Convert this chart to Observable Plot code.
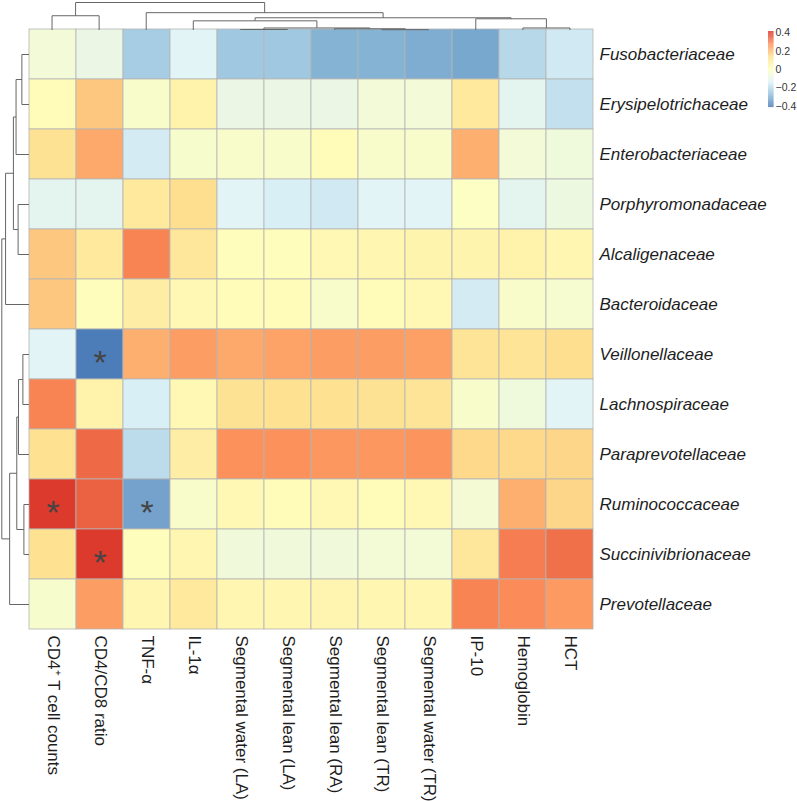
<!DOCTYPE html>
<html><head><meta charset="utf-8">
<script src="https://cdn.jsdelivr.net/npm/d3@7"></script>
<script src="https://cdn.jsdelivr.net/npm/@observablehq/plot@0.6"></script>
<style>
html,body{margin:0;padding:0;background:#fff;}
#chart{position:relative;width:797px;height:802px;overflow:hidden;font-family:"Liberation Sans",Arial,sans-serif;}
#chart svg{position:absolute;left:0;top:0;}
</style></head><body><div id="chart"></div>
<script>
// ---------- data ----------
const columns = ["CD4⁺ T cell counts","CD4/CD8 ratio","TNF-α","IL-1α","Segmental water (LA)","Segmental lean (LA)","Segmental lean (RA)","Segmental lean (TR)","Segmental water (TR)","IP-10","Hemoglobin","HCT"];
const rows = ["Fusobacteriaceae","Erysipelotrichaceae","Enterobacteriaceae","Porphyromonadaceae","Alcaligenaceae","Bacteroidaceae","Veillonellaceae","Lachnospiraceae","Paraprevotellaceae","Ruminococcaceae","Succinivibrionaceae","Prevotellaceae"];

const fusobacteriaceae    = [-0.06,-0.09,-0.24,-0.13,-0.25,-0.25,-0.30,-0.30,-0.31,-0.32,-0.21,-0.165];
const erysipelotrichaceae = [0.02,0.18,-0.03,0.06,-0.09,-0.09,-0.09,-0.06,-0.06,0.10,-0.12,-0.19];
const enterobacteriaceae  = [0.13,0.23,-0.16,-0.035,-0.03,-0.03,0.02,-0.03,-0.03,0.22,-0.06,-0.07];
const porphyromonadaceae  = [-0.12,-0.12,0.10,0.14,-0.13,-0.15,-0.165,-0.13,-0.13,-0.01,-0.12,-0.08];
const alcaligenaceae      = [0.18,0.10,0.29,0.11,0.01,0.01,0.03,0.04,0.05,0.05,0.06,0.04];
const bacteroidaceae      = [0.18,0.01,0.08,0.03,0.02,0.02,-0.03,0.02,0.03,-0.16,-0.03,-0.04];
const veillonellaceae     = [-0.13,-0.40,0.22,0.25,0.23,0.24,0.25,0.25,0.245,0.12,0.12,0.14];
const lachnospiraceae     = [0.29,0.06,-0.15,0.03,0.13,0.135,0.135,0.13,0.12,-0.03,-0.07,-0.13];
const paraprevotellaceae  = [0.135,0.33,-0.20,0.08,0.27,0.27,0.26,0.26,0.265,0.15,0.15,0.155];
const ruminococcaceae     = [0.40,0.34,-0.33,-0.03,0.03,0.02,0.03,0.02,0.03,-0.05,0.22,0.155];
const succinivibrionaceae = [0.135,0.40,0.01,0.04,-0.065,-0.065,-0.065,-0.055,-0.055,0.11,0.30,0.32];
const prevotellaceae      = [-0.035,0.25,0.04,0.10,0.04,0.04,0.045,0.04,0.04,0.29,0.28,0.255];
const values = [fusobacteriaceae,erysipelotrichaceae,enterobacteriaceae,porphyromonadaceae,alcaligenaceae,bacteroidaceae,veillonellaceae,lachnospiraceae,paraprevotellaceae,ruminococcaceae,succinivibrionaceae,prevotellaceae];

// significant cells (*)
const starRows = ["Veillonellaceae","Ruminococcaceae","Ruminococcaceae","Succinivibrionaceae"];
const starCols = ["CD4/CD8 ratio","CD4⁺ T cell counts","TNF-α","CD4/CD8 ratio"];

// dendrograms: [height, left, right]
const colTree = [27, [14, "CD4⁺ T cell counts", "CD4/CD8 ratio"],
  [17, "TNF-α",
    [12, [9, "IL-1α", [2, [0.5, "Segmental water (LA)", "Segmental lean (LA)"], [1.2, "Segmental lean (RA)", [0.3, "Segmental lean (TR)", "Segmental water (TR)"]]]],
         [11, "IP-10", [2, "Hemoglobin", "HCT"]]]]];
const rowTree = [26.7,
  [19, "Fusobacteriaceae", [12, [5, "Erysipelotrichaceae", "Enterobacteriaceae"], [10.3, "Porphyromonadaceae", [6, "Alcaligenaceae", "Bacteroidaceae"]]]],
  [23, "Veillonellaceae", [15.3, [10.7, "Lachnospiraceae", "Paraprevotellaceae"], [12.7, "Ruminococcaceae", [7, "Succinivibrionaceae", "Prevotellaceae"]]]]];

const legendTicks = [-0.4, -0.2, 0, 0.2, 0.4];
const paletteColors = ["#4575B4","#91BFDB","#E0F3F8","#FFFFBF","#FEE090","#FC8D59","#D73027"];
const paletteStops = [-0.415,-0.2767,-0.1383,0,0.1383,0.2767,0.415];

// ---------- build ----------
const cells = [];
rows.forEach((r, i) => columns.forEach((c, j) => cells.push({row: r, col: c, value: values[i][j]})));
const stars = starRows.map((r, i) => ({row: r, col: starCols[i]}));

function layout(tree, leaves, segs) {
  if (typeof tree === "string") return {p: leaves.indexOf(tree) + 0.5, h: 0};
  const [h, a, b] = tree;
  const A = layout(a, leaves, segs), B = layout(b, leaves, segs);
  segs.push({p1: A.p, h1: A.h, p2: A.p, h2: h});
  segs.push({p1: B.p, h1: B.h, p2: B.p, h2: h});
  segs.push({p1: A.p, h1: h, p2: B.p, h2: h});
  return {p: (A.p + B.p) / 2, h};
}
const colSegs = []; layout(colTree, columns, colSegs);
const rowSegs = []; layout(rowTree, rows, rowSegs);

const W = 797, H = 802;
const M = {marginLeft: 28, marginRight: 204, marginTop: 29, marginBottom: 173};
const color = {type: "linear", domain: paletteStops, range: paletteColors, clamp: true};
const font = "Liberation Sans, Arial, Helvetica, sans-serif";
const transparent = {background: "transparent", fontFamily: font, overflow: "visible"};

const heat = Plot.plot({
  width: W, height: H, ...M, style: transparent,
  x: {domain: columns, padding: 0, axis: null},
  y: {domain: rows, padding: 0, axis: null},
  color,
  marks: [
    Plot.cell(cells, {x: "col", y: "row", fill: "value", stroke: "#b4b4b4", strokeWidth: 0.8, inset: 0}),
    Plot.text(stars, {x: "col", y: "row", text: () => "*", fontSize: 34, fill: "#444", dy: 9}),
    Plot.axisY({anchor: "right", tickSize: 0, tickPadding: 6, fontSize: 17, fontStyle: "italic", color: "#1e1e1e", label: null}),
    Plot.axisX({anchor: "bottom", tickSize: 0, tickPadding: 6, tickRotate: 90, fontSize: 17, color: "#1e1e1e", label: null})
  ]
});

const colDendro = Plot.plot({
  width: W, height: H, ...M, style: transparent,
  x: {domain: [0, columns.length], axis: null},
  y: {domain: [0, 27], range: [29.5, 2], axis: null},
  marks: [Plot.link(colSegs, {x1: "p1", y1: "h1", x2: "p2", y2: "h2", stroke: "#666", strokeWidth: 1})]
});

const rowDendro = Plot.plot({
  width: W, height: H, ...M, style: transparent,
  x: {domain: [0, 26.7], range: [28.5, 1.3], axis: null},
  y: {domain: [0, rows.length], axis: null},
  marks: [Plot.link(rowSegs, {x1: "h1", y1: "p1", x2: "h2", y2: "p2", stroke: "#666", strokeWidth: 1})]
});

const step = 0.005;
const legendStops = d3.range(-0.415, 0.415, step);
const fmt = d => d === 0 ? "0" : d3.format("~g")(d);
const legend = Plot.plot({
  width: W, height: H, style: transparent,
  x: {domain: [0, 1], range: [768, 773.5], axis: null},
  y: {domain: [-0.415, 0.415], range: [107.1, 31], axis: null},
  color,
  marks: [
    Plot.rect(legendStops, {x1: 0, x2: 1, y1: d => d, y2: d => Math.min(0.415, d + step + 0.001), fill: d => d + step / 2}),
    Plot.text(legendTicks, {x: 1, y: d => d, dx: 1.5, textAnchor: "start", text: fmt, fontSize: 10.5, fill: "#333"})
  ]
});

const chart = document.getElementById("chart");
[heat, colDendro, rowDendro, legend].forEach(s => chart.appendChild(s));
</script></body></html>
